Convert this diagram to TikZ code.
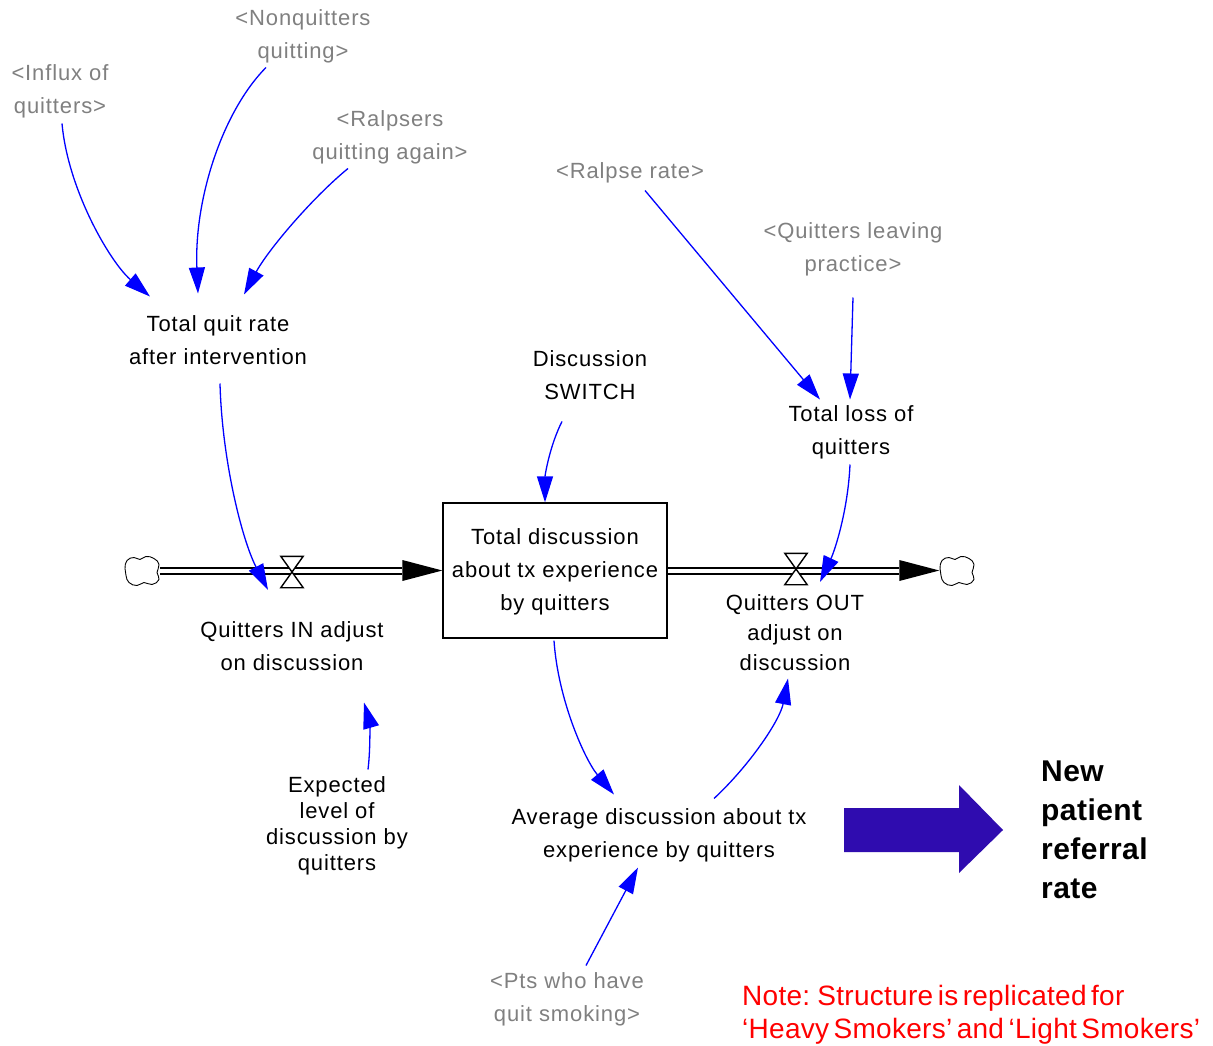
\documentclass[tikz,border=0pt]{standalone}
\usepackage{fontspec}
\setmainfont{Liberation Sans}[LetterSpace=4]
\newfontfamily\notefont{Liberation Sans}[LetterSpace=1]
\newfontfamily\resultfont{Liberation Sans}[LetterSpace=1.5]
\newcommand\notetype{\notefont\fontsize{28}{33}\selectfont\spaceskip=4.5pt plus 1pt minus 1pt\relax}
\usetikzlibrary{arrows.meta,calc}

\definecolor{linkblue}{RGB}{0,0,255}
\definecolor{shadowgray}{RGB}{128,128,128}
\definecolor{bigarrow}{RGB}{47,12,175}
\definecolor{notered}{RGB}{255,0,0}

\tikzset{
  lbl/.style={align=center, inner sep=0pt, font=\fontsize{22}{33}\selectfont, text=black, yshift=-1.5pt},
  shadowvar/.style={lbl, text=shadowgray},
  link/.style={draw=linkblue, line width=1.3pt, -{Triangle[length=26pt,width=16pt]}},
  pipe/.style={draw=black, double=white, double distance=4pt, line width=2pt},
  pipehead/.style={fill=black},
  valvebox/.style={inner sep=0pt, minimum width=22pt, minimum height=31pt},
  valveshape/.style={draw=black, fill=white, line width=1.4pt, line join=miter},
  cloudbox/.style={inner sep=0pt, minimum width=35pt, minimum height=30pt},
  stockbox/.style={draw=black, line width=1.3pt, minimum width=224pt, minimum height=135pt, inner sep=0pt},
  cloud/.pic={
    \draw[line width=0.9pt, fill=white] plot[smooth cycle, tension=0.8] coordinates
      {(-17,-2) (-15,-10) (-8,-13) (-2,-11) (4,-14) (12,-12) (17,-6) (15,2)
       (17,9) (10,14) (2,12) (-5,15) (-13,12) (-16,5)};
  }
}

\begin{document}
\begin{tikzpicture}[x=1pt, y=-1pt]
\path[use as bounding box, fill=white] (0,0) rectangle (1213,1046);

% shadow variables
\node[shadowvar] (influx)   at (60,90)   {<Influx of\\quitters>};
\node[shadowvar] (nonq)     at (303,35)  {<Nonquitters\\quitting>};
\node[shadowvar] (ralpsers) at (390,136) {<Ralpsers\\quitting again>};
\node[shadowvar] (ralpse)   at (630,171) {<Ralpse rate>};
\node[shadowvar] (leaving)  at (853,248) {<Quitters leaving\\practice>};
\node[shadowvar] (pts)      at (567,998) {<Pts who have\\quit smoking>};

% auxiliaries
\node[lbl] (tqr)    at (218,339) {Total quit rate\\after intervention};
\node[lbl] (switch) at (590,374) {Discussion\\SWITCH};
\node[lbl] (tloss)  at (851,431) {Total loss of\\quitters};
\node[lbl] (avg)    at (659,834) {Average discussion about tx\\experience by quitters};
\node[lbl, font=\fontsize{22}{26}\selectfont] (expected) at (337,824)
  {Expected\\level of\\discussion by\\quitters};

% stock (box stays put, text sits slightly lower inside it)
\node[stockbox] (stock) at (555,570.5) {};
\node[lbl] (stocktext) at (stock.center) {Total discussion\\about tx experience\\by quitters};

% sources and sinks
\node[cloudbox] (cin)  at (142,570.5) {};
\node[cloudbox] (cout) at (957,570.5) {};
\pic at (cin) {cloud};
\pic at (cout) {cloud};

% inflow pipe
\draw[pipe] (cin.east) -- ($(stock.west)+(-40,0)$);
\fill[pipehead] ($(stock.west)+(-40,-10.5)$) -- (stock.west) -- ($(stock.west)+(-40,10.5)$) -- cycle;
% outflow pipe
\draw[pipe] (stock.east) -- ($(cout.west)+(-40,0)$);
\fill[pipehead] ($(cout.west)+(-40,-10.5)$) -- (cout.west) -- ($(cout.west)+(-40,10.5)$) -- cycle;

% valves
\node[valvebox] (vin)  at (292,572) {};
\node[valvebox] (vout) at (796,569) {};
\foreach \v in {vin,vout}
  \draw[valveshape] (\v.north west) -- (\v.north east) -- (\v.south west) -- (\v.south east) -- cycle;

% flow labels
\node[lbl] (qin) at (292,645) {Quitters IN adjust\\on discussion};
\node[lbl, font=\fontsize{22}{30}\selectfont] (qout) at (795,631) {Quitters OUT\\adjust on\\discussion};

% causal links
\draw[link] ($(influx)+(2,32)$) .. controls (68,190) and (110,262) .. ($(tqr)+(-68,-44)$);
\draw[link] ($(nonq)+(-37,31)$) .. controls (222,112) and (194,200) .. ($(tqr)+(-20,-47)$);
\draw[link] ($(ralpsers)+(-42,31)$) .. controls (312,198) and (268,250) .. ($(tqr)+(26,-46)$);
\draw[link] ($(ralpse)+(15,18)$) -- ($(tloss)+(-31,-33)$);
\draw[link] ($(leaving)+(0,48)$) -- ($(tloss)+(-1,-33)$);
\draw[link] ($(switch)+(-28,46)$) .. controls (550,445) and (545,475) .. ($(stock.north)+(-10,0)$);
\draw[link] ($(tqr)+(2,43)$) .. controls (222,460) and (242,540) .. ($(vin)+(-24,18)$);
\draw[link] ($(tloss)+(-1,32)$) .. controls (848,510) and (835,550) .. ($(vout)+(24,13)$);
\draw[link] ($(stock.south)+(-1,2)$) .. controls (558,700) and (585,760) .. ($(avg)+(-45,-41)$);
\draw[link] ($(avg)+(55,-37)$) .. controls (750,765) and (780,720) .. ($(qout)+(-7,46)$);
\draw[link] ($(expected)+(31,-56)$) .. controls (371,745) and (369,720) .. ($(qin)+(72,56)$);
\draw[link] ($(pts)+(19,-34)$) -- ($(avg)+(-21,32)$);

% output arrow and result
\fill[bigarrow] (844,808) -- (959,808) -- (959,785) -- (1003,830) -- (959,873) -- (959,852) -- (844,852) -- cycle;
\node[anchor=west, align=left, inner sep=0pt, font=\resultfont\fontsize{30}{39}\selectfont\bfseries] (newref)
  at (1041,829.5) {New\\patient\\referral\\rate};

% note
\node[anchor=west, align=left, inner sep=0pt, text=notered, font=\notetype] (note)
  at (742,1015) {Note: Structure is replicated for\\‘Heavy Smokers’ and ‘Light Smokers’};
\end{tikzpicture}
\end{document}
